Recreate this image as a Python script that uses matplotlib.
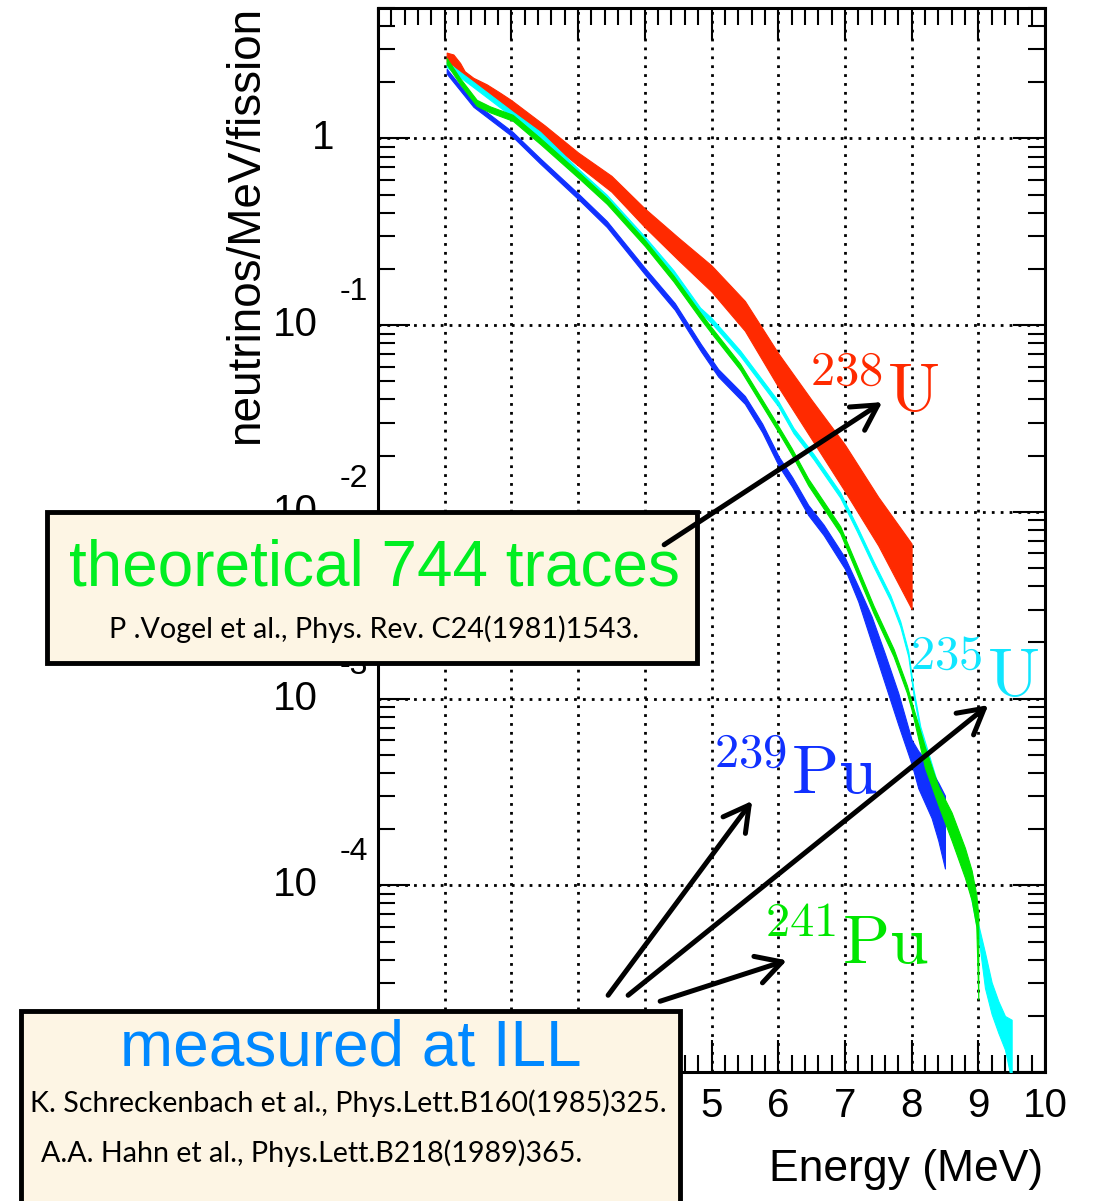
import numpy as np
import matplotlib
matplotlib.use('Agg')
import matplotlib.pyplot as plt
from matplotlib.patches import Rectangle, FancyArrowPatch
from matplotlib.ticker import MultipleLocator, LogLocator, NullFormatter, FixedFormatter

plt.rcParams['font.family'] = ['Liberation Sans', 'DejaVu Sans']
plt.rcParams['mathtext.fontset'] = 'cm'

W, H = 1093, 1201

# ---- data: energy (MeV) and log10(neutrinos/MeV/fission) ----
# 238U theoretical band (Vogel)
u238_E = [1.03, 1.13, 1.23, 1.30, 1.43, 1.63, 1.83, 2.0, 2.5, 3.0, 3.5, 4.0, 4.5,
          5.0, 5.5, 6.0, 6.5, 7.0, 7.5, 8.0]
u238_hi = [0.46, 0.45, 0.405, 0.36, 0.325, 0.29, 0.245, 0.205, 0.07, -0.075, -0.20,
           -0.375, -0.53, -0.68, -0.87, -1.15, -1.40, -1.64, -1.92, -2.17]
u238_lo = [0.405, 0.39, 0.345, 0.316, 0.28, 0.24, 0.19, 0.14, 0.00, -0.145, -0.285,
           -0.475, -0.65, -0.82, -1.03, -1.33, -1.61, -1.89, -2.18, -2.52]

# 235U measured (centre, half width in decades)
u235_E = [1.03, 1.43, 2.02, 2.43, 3.02, 3.43, 4.0, 4.43, 4.83, 5.0, 5.43, 6.0, 6.23,
          6.53, 6.93, 7.18, 7.43, 7.68, 7.83, 7.95, 8.03, 8.13, 8.5, 8.8, 9.0, 9.1,
          9.2, 9.3, 9.4, 9.5]
u235_c = [0.396, 0.289, 0.129, 0.022, -0.183, -0.316, -0.54, -0.72, -0.92, -0.975,
          -1.15, -1.42, -1.565, -1.704, -1.91, -2.09, -2.28, -2.46, -2.60,
          -2.76, -2.97, -3.163, -3.6, -3.88, -4.24, -4.455, -4.605, -4.705, -4.79,
          -4.885]
u235_w = [0.014] * 24 + [0.03, 0.095, 0.085, 0.085, 0.09, 0.165]

# 239Pu measured
pu239_E = [1.03, 1.43, 2.02, 2.43, 3.02, 3.43, 4.0, 4.45, 4.84, 5.1, 5.5, 5.76, 6.01,
           6.21, 6.45, 6.68, 7.0, 7.2, 7.4, 7.6, 7.8, 8.0, 8.1, 8.2, 8.3, 8.4, 8.5]
pu239_c = [0.36, 0.183, 0.022, -0.12, -0.316, -0.458, -0.71, -0.90, -1.12, -1.255,
           -1.40, -1.55, -1.73, -1.84, -1.99, -2.096, -2.275, -2.44, -2.63, -2.84,
           -3.055, -3.285, -3.38, -3.44, -3.515, -3.605, -3.715]
pu239_w = [0.013, 0.013, 0.013, 0.014, 0.015, 0.016, 0.017, 0.018, 0.019, 0.02, 0.021,
           0.023, 0.025, 0.026, 0.027, 0.028, 0.03, 0.04, 0.07, 0.08, 0.085, 0.065,
           0.10, 0.12, 0.125, 0.155, 0.195]

# 241Pu measured
pu241_E = [1.03, 1.23, 1.48, 1.68, 2.02, 2.43, 3.02, 3.43, 4.0, 4.43, 4.83, 5.0, 5.43,
           6.0, 6.2, 6.45, 6.93, 7.18, 7.43, 7.73, 7.93, 8.0, 8.2, 8.4, 8.6, 8.8, 8.9,
           8.97, 9.0]
pu241_c = [0.414, 0.307, 0.191, 0.156, 0.111, -0.013, -0.2, -0.334, -0.56, -0.75,
           -0.948, -1.028, -1.223, -1.555, -1.675, -1.84, -2.096, -2.309, -2.523,
           -2.754, -2.95, -3.04, -3.315, -3.52, -3.685, -3.88, -4.0, -4.135, -4.385]
pu241_w = [0.016] * 14 + [0.017, 0.018, 0.019, 0.02, 0.02, 0.02, 0.02, 0.02, 0.055,
                          0.05, 0.075, 0.08, 0.08, 0.085, 0.225]

# visible tick labels (the lower ones sit behind the ILL box)
x_ticks = [5, 6, 7, 8, 9, 10]
y_decades = [-1, -2, -3, -4]

col_red = '#ff2a00'
col_cyan = '#00ffff'
col_blue = '#1030ff'
col_green = '#00e600'

fig = plt.figure(figsize=(W / 100, H / 100), dpi=100)
ax = fig.add_axes([378 / W, 1 - 1072 / H, 667 / W, 1064 / H])


def px(x):
    return x / W


def py(y):
    return 1 - y / H


def band(E, lo, hi, color):
    lo = 10 ** np.asarray(lo)
    hi = 10 ** np.asarray(hi)
    ax.fill_between(E, lo, hi, color=color, lw=0.8, joinstyle='round', zorder=3)


band(u238_E, u238_lo, u238_hi, col_red)
c, w = np.asarray(u235_c), np.asarray(u235_w)
band(u235_E, c - w, c + w, col_cyan)
c, w = np.asarray(pu239_c), np.asarray(pu239_w)
band(pu239_E, c - w, c + w, col_blue)
c, w = np.asarray(pu241_c), np.asarray(pu241_w)
band(pu241_E, c - w, c + w, col_green)

ax.set_yscale('log')
ax.set_xlim(0, 10)
ax.set_ylim(1e-5, 5)

ax.xaxis.set_major_locator(MultipleLocator(1))
ax.xaxis.set_minor_locator(MultipleLocator(0.2))
ax.set_xticks(range(0, 11))
ax.set_xticklabels([str(t) if t in x_ticks else '' for t in range(0, 11)])
ax.yaxis.set_major_locator(LogLocator(base=10, numticks=20))
ax.yaxis.set_minor_locator(LogLocator(base=10, subs=np.arange(2, 10), numticks=20))
ax.yaxis.set_major_formatter(NullFormatter())
ax.yaxis.set_minor_formatter(NullFormatter())

ax.tick_params(which='both', direction='in', top=True, right=True, width=1.5,
               color='k')
ax.tick_params(which='major', length=23)
ax.tick_params(which='minor', length=12)
ax.tick_params(axis='x', which='major', labelsize=29, pad=11)
for s in ax.spines.values():
    s.set_linewidth(2.2)

ax.grid(True, which='major', color='k', linestyle=(0, (1, 2.2)), lw=2.0)
ax.set_axisbelow(True)

# ROOT style y labels: 1, 10^-1 ...
ax.text(-0.066, 1, '1', transform=ax.get_yaxis_transform(), ha='right',
        va='center', fontsize=29)
for k in y_decades:
    ax.text(-0.09, 10.0 ** k, '10', transform=ax.get_yaxis_transform(),
            ha='right', va='center', fontsize=29, clip_on=False)
    ax.text(-0.058, 10.0 ** (k + 0.176), str(k), transform=ax.get_yaxis_transform(),
            ha='left', va='center', fontsize=23, clip_on=False)

fig.text(px(246), py(6), 'neutrinos/MeV/fission', rotation=90, ha='center',
         va='top', fontsize=33)
fig.text(px(1043), py(1170), 'Energy (MeV)', ha='right', va='center', fontsize=32)

# isotope labels
ax.text(6.43, 10 ** -1.466, r'$^{238}\mathrm{U}$', color=col_red, fontsize=50,
        va='baseline', ha='left', zorder=6)
ax.text(7.93, 10 ** -2.987, r'$^{235}\mathrm{U}$', color='#11e6ff', fontsize=50,
        va='baseline', ha='left', zorder=6)
ax.text(4.99, 10 ** -3.51, r'$^{239}\mathrm{Pu}$', color=col_blue, fontsize=50,
        va='baseline', ha='left', zorder=6)
ax.text(5.75, 10 ** -4.418, r'$^{241}\mathrm{Pu}$', color=col_green, fontsize=50,
        va='baseline', ha='left', zorder=6)

# boxes
box_fc = '#fdf5e4'
fig.add_artist(Rectangle((px(47), py(663)), px(650), 151 / H, transform=fig.transFigure,
                         fc=box_fc, ec='k', lw=3.5, zorder=5))
fig.add_artist(Rectangle((px(21), py(1230)), px(659), 219 / H, transform=fig.transFigure,
                         fc=box_fc, ec='k', lw=3.5, zorder=5))

ref_font = ['Lato', 'DejaVu Sans']
fig.text(px(374), py(586), 'theoretical 744 traces', color='#00ee22', fontsize=46,
         ha='center', va='baseline', zorder=6)
fig.text(px(374), py(638), 'P .Vogel et al., Phys. Rev. C24(1981)1543.',
         family=ref_font, fontsize=20.6, ha='center', va='baseline', zorder=6)
fig.text(px(351), py(1065), 'measured at ILL', color='#0088ff', fontsize=46,
         ha='center', va='baseline', zorder=6)
fig.text(px(30), py(1112), 'K. Schreckenbach et al., Phys.Lett.B160(1985)325.',
         family=ref_font, fontsize=20.6, ha='left', va='baseline', zorder=6)
fig.text(px(41), py(1162), 'A.A. Hahn et al., Phys.Lett.B218(1989)365.',
         family=ref_font, fontsize=20.6, ha='left', va='baseline', zorder=6)

# arrows (tail, tip) in data coordinates
arrows = [((4.29, 10 ** -2.176), (7.56, 10 ** -1.412)),
          ((3.45, 10 ** -4.589), (5.61, 10 ** -3.548)),
          ((3.75, 10 ** -4.589), (9.15, 10 ** -3.035)),
          ((4.23, 10 ** -4.621), (6.13, 10 ** -4.402))]
for tail, tip in arrows:
    a = FancyArrowPatch(tail, tip, transform=ax.transData,
                        arrowstyle='->,head_length=0.45,head_width=0.25',
                        mutation_scale=40, lw=3.6, color='k',
                        shrinkA=0, shrinkB=0, zorder=7)
    fig.add_artist(a)

fig.savefig('out.png', dpi=100)
